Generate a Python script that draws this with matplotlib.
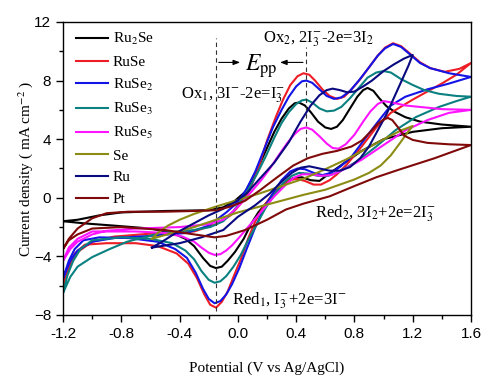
import matplotlib
matplotlib.use("Agg")
import matplotlib.pyplot as plt
from matplotlib.ticker import MultipleLocator

plt.rcParams["mathtext.fontset"] = "stix"

# --- data (potential in V, current density in mA cm-2) ---
# each curve: anodic sweep followed by the cathodic sweep back to the start
ru2se_E = [-1.2, -1.1, -0.95, -0.8, -0.5, -0.2, -0.1, -0.02, 0.05, 0.1, 0.15, 0.2, 0.25, 0.3, 0.35,
           0.39, 0.42, 0.46, 0.5, 0.55, 0.6, 0.64, 0.68, 0.72, 0.77, 0.82, 0.86, 0.89, 0.93, 0.97,
           1.02, 1.08, 1.15, 1.25, 1.4, 1.6,
           1.4, 1.2, 1.0, 0.85, 0.72, 0.62, 0.56, 0.5, 0.44, 0.38, 0.32, 0.26, 0.2, 0.14, 0.09,
           0.04, -0.02, -0.07, -0.11, -0.15, -0.19, -0.24, -0.3, -0.36, -0.45, -0.6, -0.85, -1.05, -1.2]
ru2se_j = [-1.6, -1.5, -1.2, -1.0, -0.9, -0.85, -0.65, -0.2, 0.4, 1.3, 2.3, 3.4, 4.5, 5.4, 6.1,
           6.45, 6.5, 6.3, 5.85, 5.2, 4.8, 4.7, 4.85, 5.3, 6.1, 6.9, 7.35, 7.5, 7.3, 6.8,
           6.25, 5.85, 5.5, 5.2, 5.0, 4.85,
           4.75, 4.5, 4.0, 3.2, 2.3, 1.6, 1.15, 1.2, 1.4, 1.35, 1.0, 0.4, -0.3, -1.0, -1.8,
           -2.8, -3.7, -4.3, -4.7, -4.8, -4.65, -4.1, -3.3, -2.8, -2.4, -2.1, -1.9, -1.75, -1.6]

ruse_E = [-1.2, -1.15, -1.1, -1.0, -0.85, -0.6, -0.3, -0.15, -0.05, 0.02, 0.08, 0.14, 0.2, 0.26,
          0.31, 0.36, 0.41, 0.45, 0.49, 0.53, 0.58, 0.63, 0.68, 0.73, 0.78, 0.84, 0.9, 0.96, 1.01,
          1.065, 1.12, 1.18, 1.25, 1.32, 1.42, 1.52, 1.6,
          1.5, 1.4, 1.2, 1.05, 0.95, 0.85, 0.75, 0.68, 0.63, 0.57, 0.52, 0.46, 0.4, 0.34, 0.28,
          0.22, 0.17, 0.12, 0.07, 0.02, -0.03, -0.07, -0.11, -0.15, -0.19, -0.23, -0.28, -0.34,
          -0.42, -0.55, -0.7, -0.9, -1.05, -1.12, -1.16, -1.2]
ruse_j = [-6.0, -4.6, -3.7, -3.0, -2.65, -2.45, -2.3, -1.8, -1.2, -0.4, 0.5, 2.0, 3.9, 5.5,
          6.7, 7.7, 8.3, 8.5, 8.4, 8.0, 7.4, 6.95, 6.75, 6.9, 7.4, 8.1, 8.9, 9.7, 10.25,
          10.55, 10.35, 9.85, 9.25, 8.85, 8.6, 8.8, 9.2,
          8.4, 7.8, 6.7, 5.8, 4.8, 3.5, 2.3, 1.6, 1.2, 0.9, 0.9, 1.15, 1.3, 1.15, 0.7,
          0.0, -0.7, -1.6, -2.8, -4.2, -5.4, -6.4, -7.1, -7.5, -7.3, -6.6, -5.5, -4.5,
          -3.8, -3.3, -3.1, -3.1, -3.2, -3.8, -4.6, -6.0]

ruse2_E = [-1.2, -1.15, -1.1, -1.0, -0.85, -0.6, -0.35, -0.2, -0.08, 0.0, 0.06, 0.12, 0.18, 0.24,
           0.3, 0.35, 0.4, 0.44, 0.47, 0.51, 0.56, 0.61, 0.66, 0.71, 0.77, 0.83, 0.9, 0.96, 1.01,
           1.065, 1.12, 1.18, 1.25, 1.32, 1.45, 1.6,
           1.45, 1.3, 1.15, 1.05, 0.97, 0.9, 0.78, 0.7, 0.64, 0.58, 0.52, 0.46, 0.41, 0.36, 0.3,
           0.24, 0.18, 0.12, 0.06, 0.01, -0.04, -0.08, -0.12, -0.16, -0.2, -0.24, -0.29, -0.35,
           -0.43, -0.55, -0.75, -0.95, -1.06, -1.12, -1.16, -1.2]
ruse2_j = [-5.5, -4.3, -3.6, -3.0, -2.75, -2.6, -2.4, -1.9, -1.0, -0.3, 0.6, 1.8, 3.3, 4.8,
           6.0, 6.9, 7.6, 7.95, 8.0, 7.85, 7.4, 6.95, 6.75, 6.85, 7.3, 8.0, 8.9, 9.7, 10.2,
           10.5, 10.3, 9.8, 9.2, 8.85, 8.5, 8.25,
           7.8, 7.4, 6.9, 6.3, 5.3, 4.4, 2.8, 2.1, 1.7, 1.55, 1.7, 1.95, 2.0, 1.8, 1.2,
           0.3, -0.7, -2.0, -3.5, -4.8, -5.9, -6.6, -7.05, -7.2, -6.9, -6.2, -5.1, -4.1,
           -3.5, -3.0, -2.75, -2.7, -2.9, -3.5, -4.3, -5.5]

ruse3_E = [-1.2, -1.15, -1.1, -1.0, -0.88, -0.76, -0.53, -0.3, -0.19, -0.1, -0.03, 0.03, 0.08,
           0.13, 0.19, 0.25, 0.3, 0.35, 0.4, 0.44, 0.47, 0.51, 0.56, 0.61, 0.66, 0.71, 0.77, 0.83,
           0.89, 0.95, 1.0, 1.05, 1.12, 1.2, 1.28, 1.38, 1.5, 1.6,
           1.5, 1.38, 1.22, 1.08, 0.95, 0.82, 0.7, 0.62, 0.55, 0.48, 0.42, 0.37, 0.31, 0.25, 0.19,
           0.13, 0.07, 0.02, -0.03, -0.08, -0.12, -0.16, -0.2, -0.25, -0.3, -0.36, -0.45, -0.6,
           -0.8, -1.0, -1.08, -1.13, -1.17, -1.2]
ruse3_j = [-6.5, -5.4, -4.7, -4.05, -3.5, -3.0, -2.4, -2.2, -2.0, -1.6, -0.9, -0.1, 0.7,
           1.6, 2.8, 4.1, 5.1, 5.85, 6.4, 6.65, 6.7, 6.5, 6.1, 5.9, 5.95, 6.2, 6.8, 7.5,
           8.2, 8.55, 8.65, 8.55, 8.1, 7.7, 7.35, 7.1, 6.95, 6.9,
           6.6, 6.2, 5.5, 4.6, 3.5, 2.5, 1.8, 1.5, 1.5, 1.65, 1.7, 1.5, 1.0, 0.2, -0.7,
           -1.8, -2.9, -3.9, -4.7, -5.35, -5.7, -5.8, -5.6, -5.0, -4.2, -3.6, -3.1, -2.8,
           -2.7, -2.9, -3.5, -4.3, -5.3, -6.5]

ruse5_E = [-1.2, -1.15, -1.1, -1.0, -0.9, -0.7, -0.4, -0.2, -0.1, -0.03, 0.04, 0.1, 0.16, 0.22,
           0.28, 0.34, 0.39, 0.43, 0.47, 0.51, 0.56, 0.61, 0.65, 0.69, 0.74, 0.8, 0.86, 0.91, 0.96,
           1.0, 1.06, 1.15, 1.25, 1.4, 1.6,
           1.45, 1.3, 1.15, 1.0, 0.85, 0.72, 0.64, 0.57, 0.5, 0.44, 0.38, 0.32, 0.25, 0.19, 0.13,
           0.07, 0.01, -0.04, -0.08, -0.12, -0.16, -0.2, -0.25, -0.3, -0.38, -0.5, -0.7, -1.0,
           -1.1, -1.16, -1.2]
ruse5_j = [-4.3, -3.5, -3.0, -2.5, -2.25, -2.1, -2.0, -1.8, -1.5, -0.9, -0.2, 0.5, 1.2, 2.0,
           2.9, 3.75, 4.35, 4.7, 4.8, 4.65, 4.2, 3.7, 3.4, 3.35, 3.65, 4.3, 5.2, 5.9, 6.4,
           6.6, 6.5, 6.3, 6.2, 6.05, 6.0,
           5.8, 5.3, 4.6, 3.6, 2.6, 1.9, 1.55, 1.5, 1.6, 1.6, 1.35, 0.8, 0.1, -0.6, -1.3,
           -2.0, -2.7, -3.25, -3.6, -3.85, -3.9, -3.75, -3.4, -3.0, -2.65, -2.4, -2.3, -2.3,
           -2.8, -3.4, -4.3]

se_E = [-0.59, -0.55, -0.48, -0.4, -0.3, -0.15, 0.0, 0.15, 0.3, 0.45, 0.6, 0.75, 0.9, 1.03,
        1.12, 1.2,
        1.16, 1.11, 1.05, 0.98, 0.9, 0.8, 0.7, 0.6, 0.45, 0.3, 0.15, 0.0, -0.15, -0.3, -0.45, -0.59]
se_j = [-2.8, -2.4, -1.9, -1.5, -1.1, -0.6, -0.15, 0.3, 0.8, 1.3, 1.95, 2.65, 3.45, 4.15,
        4.6, 4.9,
        4.4, 3.7, 2.9, 2.2, 1.7, 1.25, 0.9, 0.55, 0.2, -0.2, -0.6, -1.0, -1.5, -2.0, -2.4, -2.8]

ru_E = [-0.59, -0.52, -0.45, -0.35, -0.2, -0.1, -0.02, 0.06, 0.15, 0.25, 0.35, 0.43, 0.5, 0.56,
        0.61, 0.65, 0.7, 0.75, 0.8, 0.86, 0.92, 1.0, 1.07, 1.14, 1.2,
        1.17, 1.12, 1.07, 1.02, 0.96, 0.9, 0.84, 0.77, 0.7, 0.63, 0.56, 0.49, 0.43, 0.37, 0.3,
        0.22, 0.12, 0.0, -0.1, -0.25, -0.4, -0.59]
ru_j = [-3.4, -3.0, -2.55, -2.0, -1.2, -0.75, -0.3, 0.3, 1.3, 2.4, 3.8, 5.2, 6.3, 7.0,
        7.35, 7.45, 7.35, 7.2, 7.25, 7.6, 8.0, 8.65, 9.1, 9.5, 9.75,
        9.0, 7.9, 6.8, 5.7, 4.6, 3.5, 2.7, 2.1, 1.85, 1.85, 2.0, 2.15, 2.05, 1.7, 1.1,
        0.3, -0.5, -1.3, -2.2, -2.7, -3.1, -3.4]

pt_E = [-1.2, -1.16, -1.1, -1.0, -0.9, -0.75, -0.5, -0.3, -0.15, -0.05, 0.05, 0.15, 0.27, 0.38,
        0.48, 0.58, 0.68, 0.78, 0.85, 0.91, 0.96, 1.0, 1.03, 1.06, 1.1, 1.14, 1.2, 1.3, 1.45, 1.6,
        1.35, 1.1, 0.95, 0.8, 0.63, 0.45, 0.33, 0.2, 0.05, -0.08, -0.16, -0.3, -0.5, -0.8,
        -1.0, -1.1, -1.16, -1.2]
pt_j = [-3.5, -2.8, -2.1, -1.4, -1.05, -0.95, -0.95, -0.9, -0.85, -0.6, -0.2, 0.5, 1.4, 2.2,
        2.7, 3.0, 3.2, 3.5, 3.9, 4.5, 5.05, 5.35, 5.45, 5.3, 4.8, 4.25, 3.95, 3.75, 3.65, 3.6,
        2.7, 1.9, 1.4, 0.8, 0.1, -0.4, -0.8, -1.5, -2.2, -2.6, -2.7, -2.5, -2.2, -2.0,
        -2.1, -2.5, -2.9, -3.5]

labels = ["Ru$_2$Se", "RuSe", "RuSe$_2$", "RuSe$_3$", "RuSe$_5$", "Se", "Ru", "Pt"]
colors = ["#000000", "#ee1c24", "#1414e6", "#0b8080", "#ff14ff", "#8c8c14", "#0a0a80", "#800a0a"]
curves = [(ru2se_E, ru2se_j), (ruse_E, ruse_j), (ruse2_E, ruse2_j), (ruse3_E, ruse3_j),
          (ruse5_E, ruse5_j), (se_E, se_j), (ru_E, ru_j), (pt_E, pt_j)]

# peak potentials of Red1 / Ox1 marked with dashed lines
peak_E = [-0.15, 0.466]
peak_lo = [-7.7, 2.8]
peak_hi = [10.9, 10.3]

serif = ["Liberation Serif", "DejaVu Serif"]

fig = plt.figure(figsize=(4.9, 3.79), dpi=100)
ax = fig.add_axes([0.1286, 0.1689, 0.8326, 0.7731])

for (E, j), lab, c in zip(curves, labels, colors):
    ax.plot(E, j, color=c, lw=1.5, label=lab, solid_joinstyle="round")

ax.vlines(peak_E, peak_lo, peak_hi, colors="#333333", linestyles=(0, (4, 3)), lw=0.8)

# E_pp arrows
arrow = dict(arrowstyle="-|>,head_length=0.4,head_width=0.15", color="black", lw=0.8)
ax.annotate("", xy=(0.035, 9.24), xytext=(peak_E[0], 9.24), arrowprops=arrow)
ax.annotate("", xy=(0.27, 9.24), xytext=(peak_E[1], 9.24), arrowprops=arrow)
ax.text(0.16, 9.0, r"$E_{\mathrm{pp}}$", fontsize=17, ha="center", va="center")

txt = dict(fontsize=12, family=serif, va="center", ha="left")
ax.text(0.17, 10.85, r"Ox$_2$, 2I$_3^{-}$-2e=3I$_2$", **txt)
ax.text(-0.39, 7.0, r"Ox$_1$, 3I$^{-}$-2e=I$_3^{-}$", **txt)
ax.text(0.53, -1.1, r"Red$_2$, 3I$_2$+2e=2I$_3^{-}$", **txt)
ax.text(-0.04, -7.05, r"Red$_1$, I$_3^{-}$+2e=3I$^{-}$", **txt)

ax.set_xlim(-1.2, 1.6)
ax.set_ylim(-8, 12)
ax.xaxis.set_major_locator(MultipleLocator(0.4))
ax.xaxis.set_minor_locator(MultipleLocator(0.2))
ax.yaxis.set_major_locator(MultipleLocator(4))
ax.yaxis.set_minor_locator(MultipleLocator(2))
ax.set_xticklabels([f"{v:.1f}" for v in ax.get_xticks()])
ax.tick_params(which="both", direction="out", top=False, right=False, width=1)
ax.tick_params(which="major", length=5, labelsize=11)
ax.tick_params(which="minor", length=3)
for lab in ax.get_xticklabels() + ax.get_yticklabels():
    lab.set_family(["Liberation Sans", "DejaVu Sans"])
for s in ax.spines.values():
    s.set_linewidth(1.0)

ax.set_xlabel("Potential (V vs Ag/AgCl)", fontsize=11, family=serif, labelpad=15)
ax.set_ylabel("Current density ( mA cm$^{-2}$ )", fontsize=11, family=serif, labelpad=-1)

ax.legend(loc="upper left", frameon=False, prop={"family": serif, "size": 11},
          handlelength=2.1, handletextpad=0.3, labelspacing=0.52,
          borderaxespad=0.2, bbox_to_anchor=(0.01, 1.0))

fig.savefig("out.png", dpi=100)
